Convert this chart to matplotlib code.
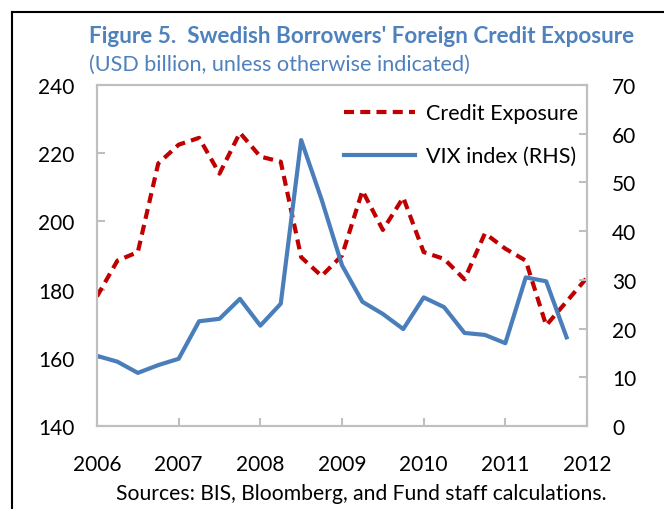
import numpy as np
from matplotlib import pyplot as plt
from matplotlib.lines import Line2D

plt.rcParams['font.family'] = ['Lato', 'DejaVu Sans']

# quarterly observations, 2006Q1 .. 2012Q1
quarters = ['2006Q1', '2006Q2', '2006Q3', '2006Q4',
            '2007Q1', '2007Q2', '2007Q3', '2007Q4',
            '2008Q1', '2008Q2', '2008Q3', '2008Q4',
            '2009Q1', '2009Q2', '2009Q3', '2009Q4',
            '2010Q1', '2010Q2', '2010Q3', '2010Q4',
            '2011Q1', '2011Q2', '2011Q3', '2011Q4',
            '2012Q1']

credit = [178, 188.5, 191, 217, 222.5, 224.5, 214, 226, 219, 217.5,
          189.5, 184, 190, 209, 197.5, 207, 191, 189, 183, 196.5,
          192, 188.5, 169.5, 176.5, 183.5]

vix = [14.4, 13.2, 10.9, 12.5, 13.8, 21.5, 22.0, 26.1, 20.6, 25.1,
       58.7, 46.5, 33.0, 25.5, 23.0, 19.9, 26.4, 24.4, 19.1, 18.7,
       17.0, 30.5, 29.7, 18.2]

years = [2006, 2007, 2008, 2009, 2010, 2011, 2012]

def to_x(q):
    return int(q[:4]) + (int(q[5]) - 1) / 4.0

x_credit = [to_x(q) for q in quarters]
x_vix = [to_x(q) for q in quarters[:len(vix)]]

red = '#C00000'
blue = '#4A7EBB'
title_col = '#4F81BD'
grey = '#BFBFBF'

fig = plt.figure(figsize=(6.64, 5.10), dpi=100)
ax = fig.add_axes([97 / 664, 1 - 427 / 510, 490 / 664, 341 / 510])
ax2 = ax.twinx()

l1, = ax.plot(x_credit, credit, color=red, lw=3, dashes=(2.4, 1.5),
              label='Credit Exposure')
l2, = ax2.plot(x_vix, vix, color=blue, lw=3, label='VIX index (RHS)')

ax.set_xlim(2006, 2012)
ax.set_ylim(140, 240)
ax2.set_ylim(0, 70)
ax.set_xticks(years)
ax.set_xticklabels([str(y) for y in years])
ax.set_yticks(np.arange(140, 241, 20))
ax2.set_yticks(np.arange(0, 71, 10))

for a in (ax, ax2):
    for s in a.spines.values():
        s.set_color(grey)
        s.set_linewidth(1.5)
ax.tick_params(axis='both', direction='in', length=6, width=1.5, color=grey,
               labelsize=15, colors=grey, labelcolor='black')
ax.tick_params(axis='y', pad=16)
ax.tick_params(axis='x', pad=20)
ax2.tick_params(axis='y', direction='in', length=6, width=1.5, color=grey,
                labelsize=15, labelcolor='black', pad=18)

ax.legend(handles=[l1, l2], loc='upper right', frameon=False, fontsize=15.5,
          handlelength=3.3, handletextpad=0.5, labelspacing=1.05,
          bbox_to_anchor=(1.012, 0.99), borderaxespad=0.3)

fig.text(89 / 664, 1 - 43 / 510, "Figure 5.  Swedish Borrowers' Foreign Credit Exposure",
         fontsize=16.2, fontweight='bold', color=title_col, va='baseline')
fig.text(89 / 664, 1 - 71 / 510, '(USD billion, unless otherwise indicated)',
         fontsize=15.6, color=title_col, va='baseline')
fig.text(361 / 664, 1 - 500 / 510, 'Sources: BIS, Bloomberg, and Fund staff calculations.',
         fontsize=15.2, ha='center', va='baseline')

# outer frame (left and top edges)
fig.add_artist(Line2D([11.5 / 664, 11.5 / 664], [0, 1 - 12.5 / 510], color='black', lw=1.5))
fig.add_artist(Line2D([11.5 / 664, 1], [1 - 12.5 / 510, 1 - 12.5 / 510], color='black', lw=1.5))

fig.savefig('out.png', dpi=100)
